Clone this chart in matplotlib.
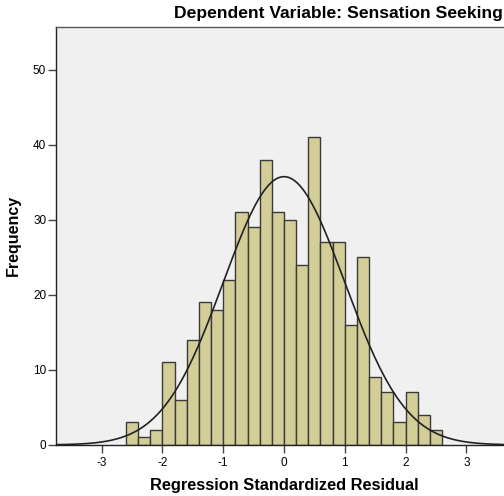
import numpy as np
import matplotlib.pyplot as plt

plt.rcParams['font.family'] = ['Liberation Sans', 'DejaVu Sans']
plt.rcParams['axes.unicode_minus'] = False

# histogram of standardized residuals (bin width 0.2, from -2.6 to 2.6)
bin_edges = np.round(np.arange(-2.6, 2.61, 0.2), 2)
counts = [3, 1, 2, 11, 6, 14, 19, 18, 22, 31, 29, 38, 31,
          30, 24, 41, 27, 27, 16, 25, 9, 7, 3, 7, 4, 2]
resid_mean = 0.0
resid_sd = 0.998
x_ticks = [-3, -2, -1, 0, 1, 2, 3]
y_ticks = [0, 10, 20, 30, 40, 50]

fig = plt.figure(figsize=(5.04, 4.96), dpi=100)
ax = fig.add_axes([0.111, 0.103, 0.905, 0.843])
ax.set_facecolor('#f0f0f0')

widths = np.diff(bin_edges)
ax.bar(bin_edges[:-1], counts, width=widths, align='edge',
       color='#d3ce97', edgecolor='#3a3a3a', linewidth=1.0, zorder=2)

# fitted normal curve
n = sum(counts)
bw = widths[0]
xs = np.linspace(-3.8, 3.8, 400)
ys = n * bw / (resid_sd * np.sqrt(2 * np.pi)) * np.exp(-0.5 * ((xs - resid_mean) / resid_sd) ** 2)
ax.plot(xs, ys, color='#222222', linewidth=1.2, zorder=3)

ax.set_xlim(-3.75, 3.75)
ax.set_ylim(0, 55.7)
ax.set_xticks(x_ticks)
ax.set_yticks(y_ticks)
ax.tick_params(axis='both', labelsize=8.5, length=6, width=1, color='#444444')
ax.tick_params(axis='x', pad=3)
ax.tick_params(axis='y', pad=1)

for s in ax.spines.values():
    s.set_color('#555555')
    s.set_linewidth(1)
ax.spines['left'].set_color('#222222')
ax.spines['bottom'].set_color('#222222')

ax.set_xlabel('Regression Standardized Residual', fontsize=11.8, fontweight='bold', labelpad=6)
ax.set_ylabel('Frequency', fontsize=11.5, fontweight='bold', labelpad=9)
fig.text(0.998, 0.988, 'Dependent Variable: Sensation Seeking', ha='right', va='top',
         fontsize=12.6, fontweight='bold')

fig.savefig('out.png', dpi=100)
